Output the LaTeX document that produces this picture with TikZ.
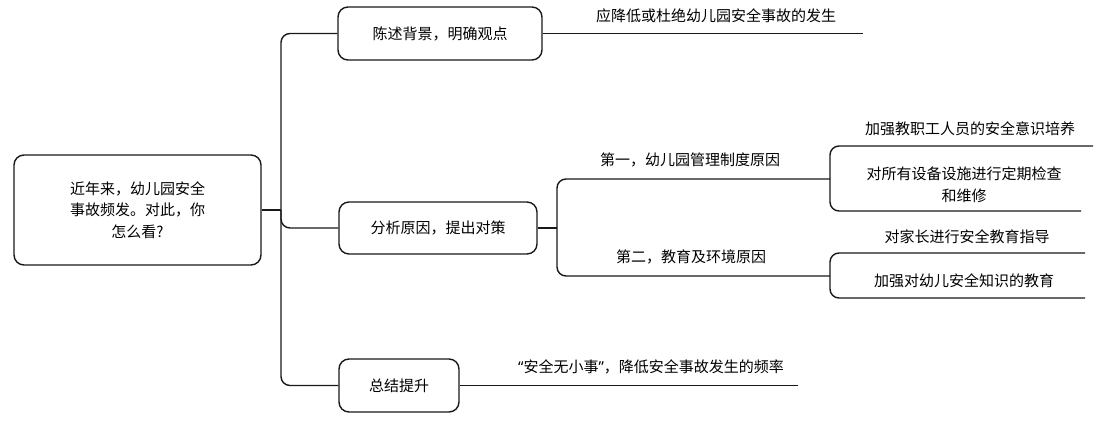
\documentclass[tikz,border=0pt]{standalone}
\usepackage{fontspec}
\setmainfont{Noto Sans CJK SC}
\newfontfamily\latinquote{Noto Sans}
\begin{document}
\begin{tikzpicture}[x=1pt,y=-1pt,
  every node/.style={font=\fontsize{15}{21.5}\selectfont, text=black},
  box/.style={draw=black!90, line width=1.4pt, rounded corners=10pt, fill=white, inner sep=0pt, align=center},
  lbl/.style={inner sep=0pt, align=center},
  conn/.style={draw=black!90, line width=1.4pt, rounded corners=9pt}]
\useasboundingbox (0,0) rectangle (1109,429);
% nodes
\node[box, minimum width=247pt, minimum height=110pt] (root) at (137.5,210) {近年来，幼儿园安全\\事故频发。对此，你\\怎么看?};
\node[box, minimum width=204pt, minimum height=53pt] (b1) at (440,33.5) {陈述背景，明确观点};
\node[box, minimum width=198pt, minimum height=52pt] (b2) at (438,228) {分析原因，提出对策};
\node[box, minimum width=120pt, minimum height=53pt] (b3) at (399,385.5) {总结提升};
% junction coordinates
\coordinate (j1) at (281,210);
\coordinate (j2) at (557,228);
\coordinate (j3) at (830,179);
\coordinate (j4) at (830,276);
% line ends
\coordinate (e1) at (863,33.5);
\coordinate (e3) at (798,385.5);
\coordinate (m1) at (830,179);
\coordinate (m2) at (830,276);
\coordinate (f1) at (1093,146);
\coordinate (f2) at (1081,211);
\coordinate (f3) at (1085,253);
\coordinate (f4) at (1085,298);
% connectors
\draw[conn] (root.east) -- (j1);
\draw[conn] (j1) |- (b1.west);
\draw[conn] (j1) |- (b2.west);
\draw[conn] (j1) |- (b3.west);
\draw[conn] (b1.east) -- (e1);
\draw[conn] (b3.east) -- (e3);
\draw[conn] (b2.east) -- (j2);
\draw[conn] (j2) |- (m1);
\draw[conn] (j2) |- (m2);
\draw[conn] (j3) |- (f1);
\draw[conn] (j3) |- (f2);
\draw[conn] (j4) |- (f3);
\draw[conn] (j4) |- (f4);
% labels
\node[lbl] (t1) at (716,16) {应降低或杜绝幼儿园安全事故的发生};
\node[lbl] (t3) at (651,367) {{\latinquote “}安全无小事{\latinquote ”}，降低安全事故发生的频率};
\node[lbl] (s1) at (690,160) {第一，幼儿园管理制度原因};
\node[lbl] (s2) at (691,257) {第二，教育及环境原因};
\node[lbl] (u1) at (970,129) {加强教职工人员的安全意识培养};
\node[lbl] (u2) at (964,185) {对所有设备设施进行定期检查\\和维修};
\node[lbl] (u3) at (967,237) {对家长进行安全教育指导};
\node[lbl] (u4) at (964,281) {加强对幼儿安全知识的教育};
\end{tikzpicture}
\end{document}
